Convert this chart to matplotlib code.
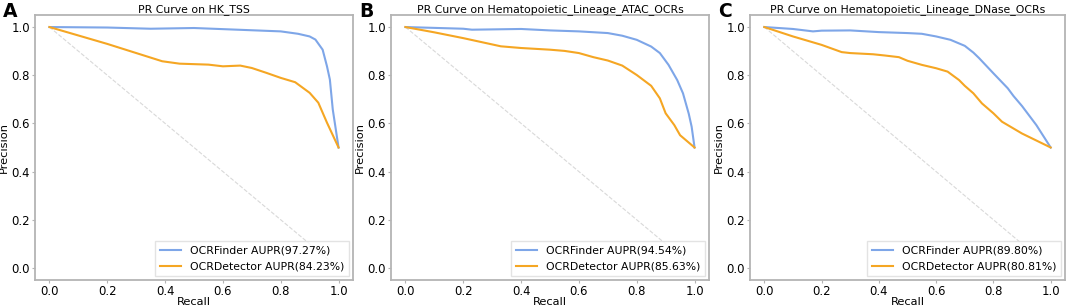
import matplotlib
matplotlib.use("Agg")
import matplotlib.pyplot as plt

titles = ["PR Curve on HK_TSS",
          "PR Curve on Hematopoietic_Lineage_ATAC_OCRs",
          "PR Curve on Hematopoietic_Lineage_DNase_OCRs"]
panel_letters = ["A", "B", "C"]
finder_labels = ["OCRFinder AUPR(97.27%)", "OCRFinder AUPR(94.54%)", "OCRFinder AUPR(89.80%)"]
detector_labels = ["OCRDetector AUPR(84.23%)", "OCRDetector AUPR(85.63%)", "OCRDetector AUPR(80.81%)"]

# Panel A
a_finder_recall = [0.0, 0.2, 0.35, 0.5, 0.65, 0.8, 0.86, 0.9, 0.92, 0.945, 0.96, 0.97, 0.98, 1.0]
a_finder_prec = [1.0, 0.998, 0.993, 0.996, 0.989, 0.982, 0.972, 0.961, 0.948, 0.906, 0.837, 0.782, 0.658, 0.5]
a_detector_recall = [0.0, 0.2, 0.39, 0.45, 0.55, 0.6, 0.66, 0.7, 0.75, 0.8, 0.85, 0.9, 0.93, 0.96, 1.0]
a_detector_prec = [1.0, 0.93, 0.858, 0.848, 0.844, 0.837, 0.84, 0.83, 0.81, 0.789, 0.771, 0.727, 0.686, 0.603, 0.5]

# Panel B
b_finder_recall = [0.0, 0.2, 0.23, 0.4, 0.5, 0.6, 0.7, 0.75, 0.8, 0.85, 0.88, 0.91, 0.94, 0.96, 0.98, 0.99, 1.0]
b_finder_prec = [1.0, 0.993, 0.989, 0.992, 0.986, 0.982, 0.975, 0.964, 0.947, 0.919, 0.892, 0.843, 0.78, 0.725, 0.64, 0.586, 0.5]
b_detector_recall = [0.0, 0.1, 0.2, 0.33, 0.4, 0.5, 0.55, 0.6, 0.65, 0.7, 0.75, 0.8, 0.85, 0.88, 0.9, 0.93, 0.95, 1.0]
b_detector_prec = [1.0, 0.978, 0.954, 0.92, 0.913, 0.906, 0.901, 0.892, 0.875, 0.861, 0.84, 0.801, 0.756, 0.704, 0.642, 0.593, 0.551, 0.5]

# Panel C
c_finder_recall = [0.0, 0.1, 0.17, 0.2, 0.3, 0.4, 0.5, 0.55, 0.6, 0.65, 0.7, 0.73, 0.75, 0.8, 0.85, 0.87, 0.9, 0.95, 1.0]
c_finder_prec = [1.0, 0.992, 0.982, 0.985, 0.986, 0.979, 0.975, 0.972, 0.961, 0.947, 0.922, 0.894, 0.871, 0.808, 0.746, 0.714, 0.672, 0.593, 0.5]
c_detector_recall = [0.0, 0.1, 0.2, 0.27, 0.3, 0.38, 0.42, 0.47, 0.5, 0.55, 0.6, 0.64, 0.68, 0.7, 0.73, 0.76, 0.8, 0.83, 0.87, 0.9, 1.0]
c_detector_prec = [1.0, 0.961, 0.926, 0.896, 0.892, 0.887, 0.882, 0.875, 0.86, 0.843, 0.829, 0.815, 0.78, 0.756, 0.725, 0.683, 0.642, 0.607, 0.579, 0.558, 0.5]

finder = [(a_finder_recall, a_finder_prec), (b_finder_recall, b_finder_prec), (c_finder_recall, c_finder_prec)]
detector = [(a_detector_recall, a_detector_prec), (b_detector_recall, b_detector_prec), (c_detector_recall, c_detector_prec)]
diag_x = [0.0, 1.0]
diag_y = [1.0, 0.0]

fig = plt.figure(figsize=(10.72, 3.07), dpi=100)
lefts = [35, 391, 750]
rights = [353, 709, 1065]
top_px, bot_px = 15, 280
W, H = 1072, 307
spine_col = "#b4b4b4"

for i in range(3):
    ax = fig.add_axes([lefts[i] / W, 1 - bot_px / H, (rights[i] - lefts[i]) / W, (bot_px - top_px) / H])
    ax.plot(diag_x, diag_y, linestyle="--", color="#d9d9d9", linewidth=0.8)
    ax.plot(*finder[i], color="#7ea6e8", linewidth=1.5, label=finder_labels[i])
    ax.plot(*detector[i], color="#f5a623", linewidth=1.5, label=detector_labels[i])
    ax.set_xlim(-0.05, 1.05)
    ax.set_ylim(-0.05, 1.05)
    ax.set_xticks([0.0, 0.2, 0.4, 0.6, 0.8, 1.0])
    ax.set_yticks([0.0, 0.2, 0.4, 0.6, 0.8, 1.0])
    ax.tick_params(labelsize=8.4, length=2.5, color=spine_col, pad=1.2)
    for s in ax.spines.values():
        s.set_color(spine_col)
        s.set_linewidth(1.3)
    ax.set_title(titles[i], fontsize=7.8, pad=2)
    ax.set_xlabel("Recall", fontsize=8.2, labelpad=-0.5)
    ax.set_ylabel("Precision", fontsize=8.2, labelpad=1.5)
    leg = ax.legend(loc="lower right", fontsize=7.8, frameon=True, fancybox=False,
                    borderaxespad=0.4, handlelength=2.0, handletextpad=0.8,
                    labelspacing=0.55)
    leg.get_frame().set_edgecolor("#dddddd")
    fig.text((lefts[i] - 32) / W, 1 - 17 / H, panel_letters[i], fontsize=13.5, fontweight="bold",
             ha="left", va="baseline")

fig.savefig("out.png", dpi=100)
